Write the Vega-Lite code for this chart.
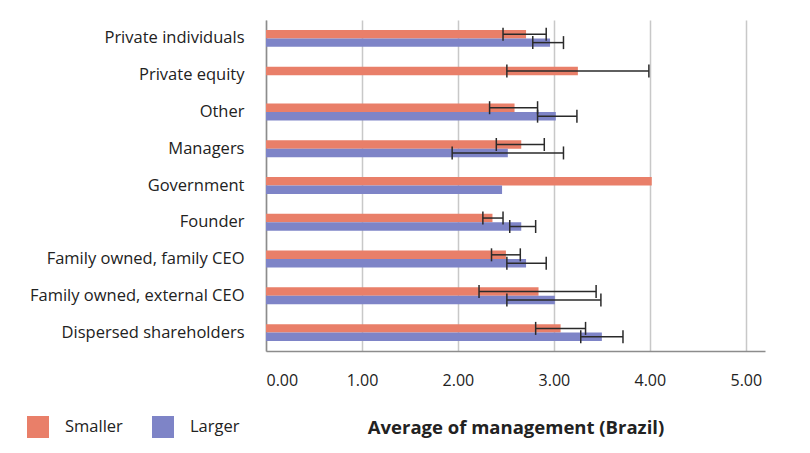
{
  "$schema": "https://vega.github.io/schema/vega-lite/v6.json",
  "width": 499,
  "height": 331,
  "autosize": "none",
  "padding": {"left": 266, "top": 20, "right": 45, "bottom": 102},
  "background": "white",
  "config": {
    "font": "Open Sans",
    "view": {"stroke": null}
  },
  "data": {
    "values": [
      {"owner": "Private individuals", "size": "Smaller", "mean": 2.71, "lower": 2.47, "upper": 2.92},
      {"owner": "Private individuals", "size": "Larger", "mean": 2.96, "lower": 2.78, "upper": 3.10},
      {"owner": "Private equity", "size": "Smaller", "mean": 3.25, "lower": 2.51, "upper": 3.99},
      {"owner": "Private equity", "size": "Larger", "mean": null, "lower": null, "upper": null},
      {"owner": "Other", "size": "Smaller", "mean": 2.59, "lower": 2.33, "upper": 2.83},
      {"owner": "Other", "size": "Larger", "mean": 3.02, "lower": 2.83, "upper": 3.24},
      {"owner": "Managers", "size": "Smaller", "mean": 2.66, "lower": 2.40, "upper": 2.90},
      {"owner": "Managers", "size": "Larger", "mean": 2.52, "lower": 1.94, "upper": 3.10},
      {"owner": "Government", "size": "Smaller", "mean": 4.02, "lower": null, "upper": null},
      {"owner": "Government", "size": "Larger", "mean": 2.46, "lower": null, "upper": null},
      {"owner": "Founder", "size": "Smaller", "mean": 2.36, "lower": 2.26, "upper": 2.47},
      {"owner": "Founder", "size": "Larger", "mean": 2.66, "lower": 2.54, "upper": 2.81},
      {"owner": "Family owned, family CEO", "size": "Smaller", "mean": 2.50, "lower": 2.35, "upper": 2.65},
      {"owner": "Family owned, family CEO", "size": "Larger", "mean": 2.71, "lower": 2.51, "upper": 2.92},
      {"owner": "Family owned, external CEO", "size": "Smaller", "mean": 2.84, "lower": 2.22, "upper": 3.44},
      {"owner": "Family owned, external CEO", "size": "Larger", "mean": 3.01, "lower": 2.51, "upper": 3.49},
      {"owner": "Dispersed shareholders", "size": "Smaller", "mean": 3.07, "lower": 2.81, "upper": 3.33},
      {"owner": "Dispersed shareholders", "size": "Larger", "mean": 3.50, "lower": 3.28, "upper": 3.72}
    ]
  },
  "encoding": {
    "y": {
      "field": "owner",
      "type": "nominal",
      "sort": null,
      "scale": {"paddingInner": 0.54, "paddingOuter": 0.27},
      "axis": {
        "title": null,
        "ticks": false,
        "labelFontSize": 16.5,
        "labelColor": "#222222",
        "labelPadding": 22,
        "labelLimit": 300,
        "domainColor": "#8c8c8c",
        "domainWidth": 1.5
      }
    },
    "yOffset": {
      "field": "size",
      "type": "nominal",
      "sort": ["Smaller", "Larger"]
    }
  },
  "layer": [
    {
      "mark": {"type": "bar", "opacity": 1},
      "transform": [{"filter": "datum.mean != null"}],
      "encoding": {
        "x": {
          "field": "mean",
          "type": "quantitative",
          "scale": {"domain": [0, 5.2], "nice": false},
          "axis": {
            "values": [0, 1, 2, 3, 4, 5],
            "format": ".2f",
            "ticks": false,
            "labelFontSize": 16,
            "labelColor": "#222222",
            "labelPadding": 21,
            "gridColor": "#c8c8c8",
            "gridWidth": 1.5,
            "domainColor": "#8c8c8c",
            "domainWidth": 1.5,
            "title": "Average of management (Brazil)",
            "titleFontSize": 18.5,
            "titleFontWeight": "bold",
            "titleColor": "#222222",
            "titlePadding": 30
          }
        },
        "color": {
          "field": "size",
          "type": "nominal",
          "sort": ["Smaller", "Larger"],
          "scale": {"domain": ["Smaller", "Larger"], "range": ["#e97f69", "#7e84c7"]},
          "legend": {
            "title": null,
            "orient": "none",
            "direction": "horizontal",
            "legendX": -239,
            "legendY": 396,
            "symbolType": "square",
            "symbolSize": 484,
            "symbolOpacity": 1,
            "symbolStrokeWidth": 0,
            "labelFontSize": 16.5,
            "labelColor": "#222222",
            "labelOffset": 16,
            "columnPadding": 29
          }
        }
      }
    },
    {
      "mark": {"type": "rule", "color": "#2a2a2a", "strokeWidth": 1.5},
      "transform": [{"filter": "datum.lower != null"}],
      "encoding": {
        "x": {"field": "lower", "type": "quantitative"},
        "x2": {"field": "upper"}
      }
    },
    {
      "mark": {"type": "tick", "color": "#2a2a2a", "thickness": 1.5, "size": 13, "opacity": 1},
      "transform": [{"filter": "datum.lower != null"}],
      "encoding": {
        "x": {"field": "lower", "type": "quantitative"}
      }
    },
    {
      "mark": {"type": "tick", "color": "#2a2a2a", "thickness": 1.5, "size": 13, "opacity": 1},
      "transform": [{"filter": "datum.lower != null"}],
      "encoding": {
        "x": {"field": "upper", "type": "quantitative"}
      }
    }
  ]
}
